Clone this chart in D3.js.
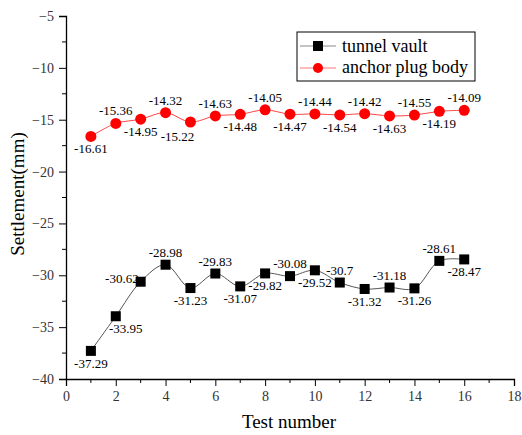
<!DOCTYPE html>
<html>
<head>
<meta charset="utf-8">
<script src="https://cdn.jsdelivr.net/npm/d3@7"></script>
</head>
<body style="margin:0; background:#fff">
<script>
var testNo = [1, 2, 3, 4, 5, 6, 7, 8, 9, 10, 11, 12, 13, 14, 15, 16];
var vault = [-37.29, -33.95, -30.62, -28.98, -31.23, -29.83, -31.07, -29.82, -30.08, -29.52, -30.7, -31.32, -31.18, -31.26, -28.61, -28.47];
var plug = [-16.61, -15.36, -14.95, -14.32, -15.22, -14.63, -14.48, -14.05, -14.47, -14.44, -14.54, -14.42, -14.63, -14.55, -14.19, -14.09];
// where each data label sits relative to its point
var vaultLabelSide = ['b', 'br', 'l', 't', 'b', 't', 'b', 'b', 't', 'b', 't', 'b', 't', 'b', 't', 'b'];
var plugLabelSide = ['b', 't', 'b', 't', 'bl', 't', 'b', 't', 'b', 't', 'b', 't', 'b', 't', 'b', 't'];
var xTicks = [0, 2, 4, 6, 8, 10, 12, 14, 16, 18];
var yTicks = [-40, -35, -30, -25, -20, -15, -10, -5];

var FONT = "'Liberation Serif'";
var width = 522, height = 435;
var svg = d3.select('body').append('svg')
    .attr('width', width)
    .attr('height', height);

var x = d3.scaleLinear().domain([0, 18]).range([66, 514]);
var y = d3.scaleLinear().domain([-40, -5]).range([379, 16]);

// minor ticks
var xMinor = d3.range(1, 18, 2);
var yMinor = d3.range(-37.5, -5, 5);

var gx = svg.append('g').attr('transform', 'translate(0,379)');
gx.call(d3.axisBottom(x).tickValues(xTicks).tickSize(7).tickPadding(5).tickFormat(d3.format('d')));
xMinor.forEach(function(v) {
    gx.append('line').attr('x1', x(v)).attr('x2', x(v)).attr('y1', 0).attr('y2', 4).attr('stroke', '#000');
});

var gy = svg.append('g').attr('transform', 'translate(66,0)');
gy.call(d3.axisLeft(y).tickValues(yTicks).tickSize(7).tickPadding(5).tickFormat(function(d) { return '\u2212' + Math.abs(d); }));
yMinor.forEach(function(v) {
    gy.append('line').attr('x1', 0).attr('x2', -4).attr('y1', y(v)).attr('y2', y(v)).attr('stroke', '#000');
});

svg.selectAll('.domain').attr('stroke', '#000').attr('stroke-width', 1.3);
svg.selectAll('.tick line').attr('stroke', '#000');
svg.selectAll('.tick text').attr('font-size', 14).attr('fill', '#333');

svg.append('text').attr('x', 289).attr('y', 428).attr('text-anchor', 'middle')
    .attr('font-size', 19).text('Test number');
svg.append('text').attr('transform', 'translate(24,194) rotate(-90)').attr('text-anchor', 'middle')
    .attr('font-size', 19).text('Settlement(mm)');

var line = d3.line()
    .x(function(d, i) { return x(testNo[i]); })
    .y(function(d) { return y(d); })
    .curve(d3.curveCatmullRom.alpha(0.5));

svg.append('path').datum(vault).attr('d', line)
    .attr('fill', 'none').attr('stroke', '#555').attr('stroke-width', 1);
svg.append('path').datum(plug).attr('d', line)
    .attr('fill', 'none').attr('stroke', '#f44').attr('stroke-width', 1);

svg.selectAll('rect.vault').data(vault).enter().append('rect')
    .attr('class', 'vault')
    .attr('x', function(d, i) { return x(testNo[i]) - 5; })
    .attr('y', function(d) { return y(d) - 5; })
    .attr('width', 10).attr('height', 10).attr('fill', '#000');

svg.selectAll('circle.plug').data(plug).enter().append('circle')
    .attr('class', 'plug')
    .attr('cx', function(d, i) { return x(testNo[i]); })
    .attr('cy', function(d) { return y(d); })
    .attr('r', 5.5).attr('fill', '#f00');

var sideOffset = {
    t: [0, -8, 'middle'],
    b: [0, 17, 'middle'],
    bl: [-13, 19, 'middle'],
    br: [10, 17, 'middle'],
    l: [-2, 1, 'end']
};

function addLabels(vals, sides) {
    vals.forEach(function(v, i) {
        var p = sideOffset[sides[i]];
        svg.append('text')
            .attr('x', x(testNo[i]) + p[0])
            .attr('y', y(v) + p[1])
            .attr('text-anchor', p[2])
            .attr('font-size', 13)
            .text(v);
    });
}
addLabels(vault, vaultLabelSide);
addLabels(plug, plugLabelSide);

// legend
var lg = svg.append('g').attr('transform', 'translate(297,32)');
lg.append('rect').attr('width', 178).attr('height', 49)
    .attr('fill', '#fff').attr('stroke', '#000').attr('stroke-width', 1);
lg.append('line').attr('x1', 3).attr('x2', 39).attr('y1', 14).attr('y2', 14).attr('stroke', '#888');
lg.append('rect').attr('x', 16).attr('y', 9).attr('width', 10).attr('height', 10).attr('fill', '#000');
lg.append('text').attr('x', 45).attr('y', 20).attr('font-size', 18).text('tunnel vault');
lg.append('line').attr('x1', 3).attr('x2', 39).attr('y1', 36).attr('y2', 36).attr('stroke', '#f77');
lg.append('circle').attr('cx', 21).attr('cy', 36).attr('r', 5).attr('fill', '#f00');
lg.append('text').attr('x', 45).attr('y', 41).attr('font-size', 18).text('anchor plug body');

svg.selectAll('text').style('font-family', FONT);
</script>
</body>
</html>
